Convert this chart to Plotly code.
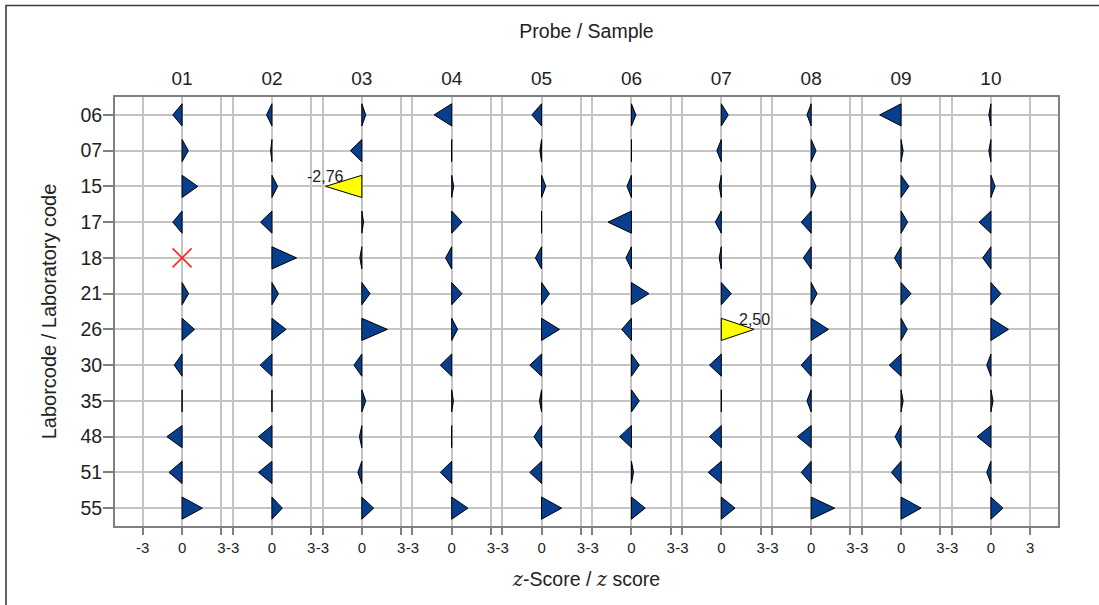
import plotly.graph_objects as go

# ---------------- data ----------------
samples = ["01", "02", "03", "04", "05", "06", "07", "08", "09", "10"]
labs = ["06", "07", "15", "17", "18", "21", "26", "30", "35", "48", "51", "55"]
bottom_ticks = [-3, 0, 3]

z01 = [-0.71, 0.48, 1.20, -0.71, None, 0.50, 0.95, -0.60, 0.00, -1.16, -1.00, 1.55]
z02 = [-0.41, -0.10, 0.43, -0.87, 1.88, 0.50, 1.08, -0.90, 0.00, -1.03, -1.03, 0.79]
z03 = [0.30, -0.87, -2.76, 0.13, -0.15, 0.63, 1.95, -0.60, 0.30, -0.18, -0.30, 0.90]
z04 = [-1.34, 0.00, 0.15, 0.79, -0.47, 0.79, 0.45, -0.87, 0.13, -0.05, -0.87, 1.24]
z05 = [-0.74, -0.13, 0.32, 0.00, -0.47, 0.60, 1.37, -0.90, -0.16, -0.58, -0.90, 1.53]
z06 = [0.34, 0.00, -0.34, -1.79, -0.42, 1.34, -0.74, 0.60, 0.60, -0.90, 0.16, 1.05]
z07 = [0.53, -0.34, -0.16, -0.45, -0.16, 0.76, 2.50, -0.90, 0.00, -0.90, -1.00, 1.05]
z08 = [-0.32, 0.37, 0.37, -0.76, -0.60, 0.45, 1.32, -0.76, -0.32, -1.05, -0.76, 1.79]
z09 = [-1.63, 0.16, 0.60, 0.50, -0.50, 0.76, 0.47, -0.90, 0.16, -0.45, -0.74, 1.53]
z10 = [-0.16, -0.16, 0.32, -0.90, -0.63, 0.76, 1.34, -0.32, 0.16, -1.05, -0.32, 0.92]
zscores = [z01, z02, z03, z04, z05, z06, z07, z08, z09, z10]

# ---------------- layout constants ----------------
SPACING = 6.86      # z-units between column centres
EDGE = 5.12         # z-units margin at both sides
HALF = 0.31         # half height of triangle base (row units)
LIMIT = 2.0
BLUE = "#073f8e"
YELLOW = "#ffff00"
GRID = "#c4c4c4"
FRAME = "#808080"
FONT = "Liberation Sans, Arial, sans-serif"

centers = [i * SPACING for i in range(len(samples))]

bx, by, yx, yy = [], [], [], []
miss_x, miss_y = [], []
annotations = []
for c, col in zip(centers, zscores):
    for r, z in enumerate(col):
        if z is None:
            miss_x.append(c)
            miss_y.append(r)
            continue
        px = [c, c, c + z, c, None]
        py = [r - HALF, r + HALF, r, r - HALF, None]
        if abs(z) > LIMIT:
            yx += px
            yy += py
            annotations.append(dict(
                x=c + z, y=r, xref="x", yref="y", text=f"{z:.2f}".replace(".", ","),
                showarrow=False, yanchor="bottom", xanchor="center", yshift=-1,
                font=dict(family=FONT, size=16, color="#222")))
        else:
            bx += px
            by += py

fig = go.Figure()
fig.add_trace(go.Scatter(x=bx, y=by, mode="lines", fill="toself", fillcolor=BLUE,
                         line=dict(color="black", width=1), hoverinfo="skip",
                         showlegend=False))
fig.add_trace(go.Scatter(x=yx, y=yy, mode="lines", fill="toself", fillcolor=YELLOW,
                         line=dict(color="black", width=1), hoverinfo="skip",
                         showlegend=False))
fig.add_trace(go.Scatter(x=miss_x, y=miss_y, mode="markers",
                         marker=dict(symbol="x-thin", size=19,
                                     line=dict(color="#ff2020", width=1.6)),
                         hoverinfo="skip", showlegend=False))
# helper trace so that the top axis is drawn
fig.add_trace(go.Scatter(x=centers, y=[0] * len(centers), xaxis="x2", mode="markers",
                         marker=dict(opacity=0), hoverinfo="skip", showlegend=False))

xr = [-EDGE, centers[-1] + EDGE]
tickvals, ticktext = [], []
for c in centers:
    for t in bottom_ticks:
        tickvals.append(c + t)
        ticktext.append(str(t))

# outer frame lines (left and top)
L, R, T, B = 115, 41, 97, 79
W, H = 1099, 605
pw, ph = W - L - R, H - T - B
def px2x(p):
    return (p - L) / pw
def py2y(p):
    return (H - B - p) / ph

fx0, fx1 = px2x(6), px2x(1099)
fy0, fy1 = py2y(605), py2y(5.5)
shapes = [
    dict(type="path", xref="paper", yref="paper",
         path=f"M {fx0},{fy0} L {fx0},{fy1} L {fx1},{fy1}",
         line=dict(color="#3a3a3a", width=1.6), layer="above"),
]

fig.update_layout(
    width=W, height=H,
    margin=dict(l=L, r=R, t=T, b=B),
    paper_bgcolor="white", plot_bgcolor="white",
    font=dict(family=FONT, size=16, color="#222"),
    shapes=shapes,
    annotations=annotations,
    xaxis=dict(
        range=xr, tickmode="array", tickvals=tickvals, ticktext=ticktext,
        tickangle=0, showgrid=True, gridcolor=GRID, gridwidth=2,
        zeroline=False, showline=True, linecolor=FRAME, linewidth=2, mirror=True,
        ticks="outside", ticklen=7, tickwidth=2, tickcolor=FRAME,
        tickfont=dict(size=15), ticklabelstandoff=0, automargin=False,
        title=dict(text="<i><span style='font-family:DejaVu Serif, serif'>z</span></i>-Score / "
                        "<i><span style='font-family:DejaVu Serif, serif'>z</span></i> score",
                   font=dict(size=19.5), standoff=17),
    ),
    xaxis2=dict(
        overlaying="x", side="top", range=xr, tickmode="array",
        tickvals=centers, ticktext=samples, showgrid=False, zeroline=False,
        showline=False, ticks="", tickfont=dict(size=19), ticklabelstandoff=7,
        automargin=False,
        title=dict(text="Probe / Sample", font=dict(size=19.5), standoff=24),
    ),
    yaxis=dict(
        range=[len(labs) - 0.5, -0.5], tickmode="array",
        tickvals=list(range(len(labs))), ticktext=labs,
        showgrid=True, gridcolor=GRID, gridwidth=2, zeroline=False,
        showline=True, linecolor=FRAME, linewidth=2, mirror=True,
        ticks="outside", ticklen=10, tickwidth=2, tickcolor=FRAME,
        tickfont=dict(size=19.5), ticklabelstandoff=-3, automargin=False,
        title=dict(text="Laborcode / Laboratory code", font=dict(size=20), standoff=18),
    ),
)

fig.write_html(
    "out.html",
    post_script=("document.body.style.margin='0px';"
                 "document.body.style.overflow='hidden';"
                 "document.documentElement.style.overflow='hidden';"),
    config={"displayModeBar": False},
)
